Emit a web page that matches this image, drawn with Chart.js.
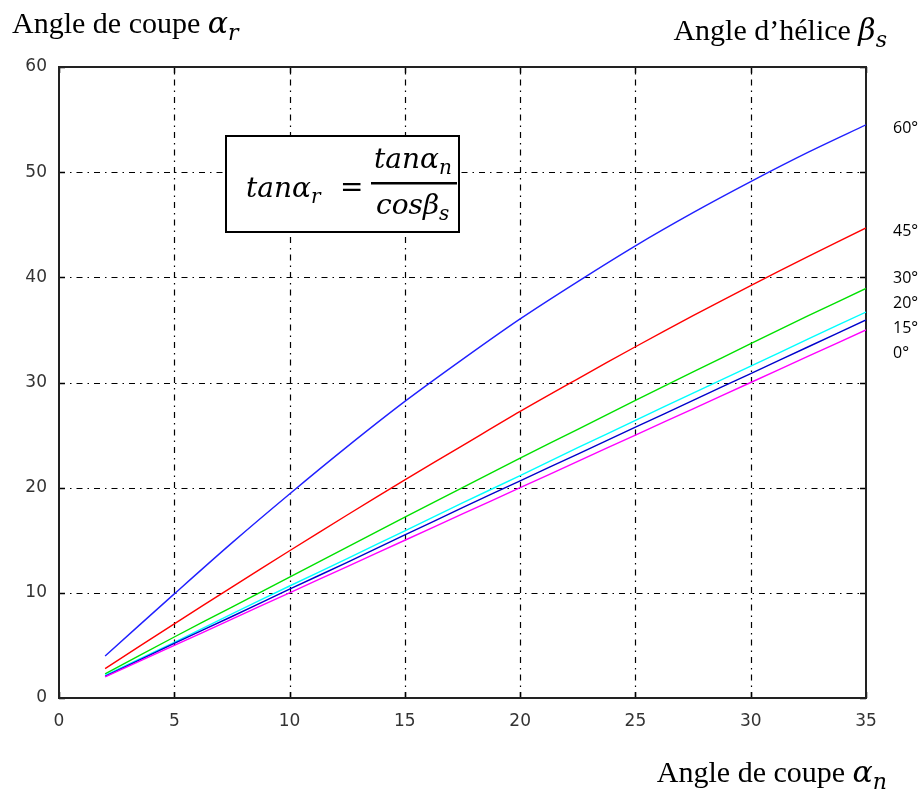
<!DOCTYPE html>
<html>
<head>
<meta charset="utf-8">
<script src="https://cdn.jsdelivr.net/npm/chart.js@4.4.0/dist/chart.umd.min.js"></script>
<style>
	html, body { margin: 0; padding: 0; background: #fff; }
	#wrap { width: 922px; height: 794px; }
</style>
</head>
<body>
<div id="wrap"><canvas id="chart" width="922" height="794"></canvas></div>
<script>
// angle de coupe normal (deg)
const alphaN = [2, 5, 7.5, 10, 12.5, 15, 17.5, 20, 22.5, 25, 27.5, 30, 32.5, 35];

// angle de coupe réel, one list per helix angle
const beta60 = [4.0, 9.9, 14.75, 19.4, 23.9, 28.2, 32.2, 36.05, 39.6, 43.0, 46.15, 49.1, 51.9, 54.5];
const beta45 = [2.8, 7.05, 10.55, 14.0, 17.4, 20.75, 24.0, 27.25, 30.35, 33.4, 36.35, 39.2, 42.0, 44.7];
const beta30 = [2.3, 5.8, 8.65, 11.5, 14.35, 17.2, 20.0, 22.8, 25.55, 28.3, 31.0, 33.7, 36.35, 38.95];
const beta20 = [2.15, 5.3, 8.0, 10.65, 13.25, 15.9, 18.55, 21.15, 23.8, 26.4, 29.0, 31.55, 34.15, 36.7];
const beta15 = [2.05, 5.2, 7.75, 10.35, 12.9, 15.5, 18.1, 20.65, 23.2, 25.75, 28.3, 30.85, 33.4, 35.95];
const beta0 = [2.0, 5.0, 7.5, 10.0, 12.5, 15.0, 17.5, 20.0, 22.5, 25.0, 27.5, 30.0, 32.5, 35.0];

const seriesNames = ["0°", "15°", "20°", "30°", "45°", "60°"];
const seriesData = [beta0, beta15, beta20, beta30, beta45, beta60];
const seriesColors = ["#ff00ff", "#0000cc", "#00ffff", "#00e000", "#ff0000", "#2020ff"];

const xTicks = [0, 5, 10, 15, 20, 25, 30, 35];
const yTicks = [0, 10, 20, 30, 40, 50, 60];

// y value where each right-side label sits
const labelLevels = [32.9, 35.3, 37.7, 40.0, 44.5, 54.3];

function toPoints(ys) {
	return alphaN.map(function (x, i) {
		return { x: x, y: ys[i] };
	});
}

// writes "base" + italic symbol + subscript, returns end x
function mathText(ctx, x, y, base, sym, sub, size) {
	ctx.font = size + "px 'Liberation Serif', serif";
	ctx.fillText(base, x, y);
	x += ctx.measureText(base).width;
	ctx.font = "italic " + size + "px 'DejaVu Serif', serif";
	ctx.fillText(sym, x, y);
	x += ctx.measureText(sym).width;
	ctx.font = "italic " + Math.round(size * 0.72) + "px 'DejaVu Serif', serif";
	ctx.fillText(sub, x, y + size * 0.22);
	return x + ctx.measureText(sub).width;
}

function mathWidth(ctx, base, sym, sub, size) {
	ctx.font = size + "px 'Liberation Serif', serif";
	let w = ctx.measureText(base).width;
	ctx.font = "italic " + size + "px 'DejaVu Serif', serif";
	w += ctx.measureText(sym).width;
	ctx.font = "italic " + Math.round(size * 0.72) + "px 'DejaVu Serif', serif";
	return w + ctx.measureText(sub).width;
}

const gridPlugin = {
	id: "gridPlugin",
	beforeDatasetsDraw: function (chart) {
		const ctx = chart.ctx;
		const a = chart.chartArea;
		const xs = chart.scales.x;
		const ys = chart.scales.y;
		ctx.save();
		ctx.strokeStyle = "#000";
		ctx.lineWidth = 1.2;
		ctx.setLineDash([6, 5, 1.5, 5]);
		xTicks.slice(1, -1).forEach(function (v) {
			const px = Math.round(xs.getPixelForValue(v)) + 0.5;
			ctx.beginPath();
			ctx.moveTo(px, a.bottom);
			ctx.lineTo(px, a.top);
			ctx.stroke();
		});
		yTicks.slice(1, -1).forEach(function (v) {
			const py = Math.round(ys.getPixelForValue(v)) + 0.5;
			ctx.beginPath();
			ctx.moveTo(a.left, py);
			ctx.lineTo(a.right, py);
			ctx.stroke();
		});
		// small inner tick marks
		ctx.setLineDash([]);
		ctx.lineWidth = 1.5;
		xTicks.forEach(function (v) {
			const px = Math.round(xs.getPixelForValue(v)) + 0.5;
			ctx.beginPath();
			ctx.moveTo(px, a.bottom); ctx.lineTo(px, a.bottom - 6);
			ctx.moveTo(px, a.top); ctx.lineTo(px, a.top + 6);
			ctx.stroke();
		});
		yTicks.forEach(function (v) {
			const py = Math.round(ys.getPixelForValue(v)) + 0.5;
			ctx.beginPath();
			ctx.moveTo(a.left, py); ctx.lineTo(a.left + 6, py);
			ctx.moveTo(a.right, py); ctx.lineTo(a.right - 6, py);
			ctx.stroke();
		});
		ctx.lineWidth = 2;
		ctx.strokeStyle = "#222";
		ctx.strokeRect(a.left, a.top, a.right - a.left, a.bottom - a.top);
		ctx.restore();
	},
};

const textPlugin = {
	id: "textPlugin",
	afterDraw: function (chart) {
		const ctx = chart.ctx;
		const ys = chart.scales.y;
		ctx.save();
		ctx.fillStyle = "#000";
		ctx.textBaseline = "alphabetic";
		ctx.textAlign = "left";

		// titles
		const ts = 30;
		mathText(ctx, 12, 33, "Angle de coupe ", "α", "r", ts);
		let w = mathWidth(ctx, "Angle d\u2019hélice ", "β", "s", ts);
		mathText(ctx, 887 - w, 40, "Angle d\u2019hélice ", "β", "s", ts);
		w = mathWidth(ctx, "Angle de coupe ", "α", "n", ts);
		mathText(ctx, 887 - w, 782, "Angle de coupe ", "α", "n", ts);

		// curve labels
		ctx.font = "16px 'Open Sans', sans-serif";
		seriesNames.forEach(function (name, i) {
			const py = ys.getPixelForValue(labelLevels[i]);
			ctx.fillText(name, 893, py + 6);
		});

		// formula box
		ctx.fillStyle = "#fff";
		ctx.fillRect(226, 136, 233, 96);
		ctx.strokeStyle = "#000";
		ctx.lineWidth = 2;
		ctx.strokeRect(226, 136, 233, 96);
		ctx.fillStyle = "#000";
		const fs = 28;
		mathText(ctx, 246, 197, "", "tanα", "r", fs);
		ctx.font = fs + "px 'DejaVu Serif', serif";
		ctx.fillText("=", 340, 196);
		mathText(ctx, 374, 168, "", "tanα", "n", fs);
		mathText(ctx, 376, 214, "", "cosβ", "s", fs);
		ctx.fillRect(371, 182, 86, 2.5);
		ctx.restore();
	},
};

const config = {
	type: "line",
	data: {
		datasets: seriesData.map(function (ys, i) {
			return {
				label: seriesNames[i],
				data: toPoints(ys),
				borderColor: seriesColors[i],
				borderWidth: 1.4,
				pointRadius: 0,
				tension: 0.3,
				fill: false,
			};
		}),
	},
	options: {
		responsive: false,
		animation: false,
		layout: {
			padding: { left: 0, right: 56, top: 67, bottom: 0 },
		},
		scales: {
			x: {
				type: "linear",
				min: 0,
				max: 35,
				afterFit: function (scale) { scale.height = 96; },
				afterBuildTicks: function (scale) {
					scale.ticks = xTicks.map(function (v) { return { value: v }; });
				},
				grid: { display: false, drawTicks: false },
				border: { display: false },
				ticks: {
					color: "#333",
					padding: 13,
					maxRotation: 0,
					font: { family: "'DejaVu Sans', sans-serif", size: 17 },
				},
			},
			y: {
				type: "linear",
				min: 0,
				max: 60,
				afterFit: function (scale) { scale.width = 59; },
				afterBuildTicks: function (scale) {
					scale.ticks = yTicks.map(function (v) { return { value: v }; });
				},
				grid: { display: false, drawTicks: false },
				border: { display: false },
				ticks: {
					color: "#333",
					padding: 12,
					font: { family: "'DejaVu Sans', sans-serif", size: 17 },
				},
			},
		},
		plugins: {
			legend: { display: false },
			tooltip: { enabled: false },
		},
	},
	plugins: [gridPlugin, textPlugin],
};

const ctx = document.getElementById("chart").getContext("2d");
const myChart = new Chart(ctx, config);
</script>
</body>
</html>
